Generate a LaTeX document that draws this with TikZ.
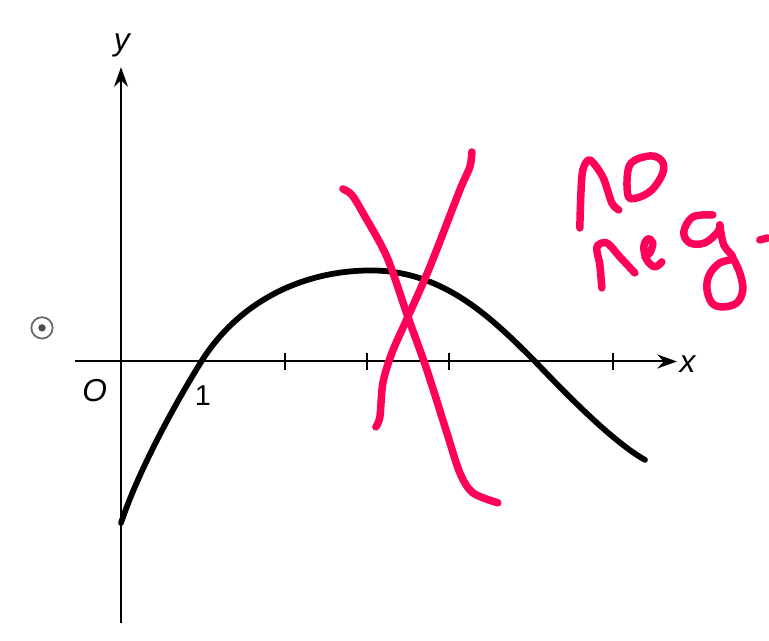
\documentclass[tikz,border=0pt]{standalone}
\usepackage{fontspec}
\setmainfont{Liberation Sans}
\usepackage{xcolor}
\definecolor{inkred}{RGB}{255,0,90}
\usepackage{tikz}
\usetikzlibrary{arrows.meta,positioning,calc}
\tikzset{
  axisline/.style={line width=0.7pt,-{Stealth[length=2.4mm,width=1.7mm]}},
  graphline/.style={line width=2pt,line cap=round},
  inkline/.style={inkred,line width=2.6pt,line cap=round,line join=round},
  lbl/.style={inner sep=1pt,font=\fontsize{10}{12}\selectfont}
}

\begin{document}
\begin{tikzpicture}
  \useasboundingbox (-1.4756,-3.4085) rectangle (7.9024,4.4085);
  % 坐标轴
  \coordinate (xmin) at (-0.56,0);
  \coordinate (xmax) at (6.78,0);
  \coordinate (ymin) at (0,-3.19);
  \coordinate (ymax) at (0,3.59);
  \draw[axisline] (xmin) -- (xmax);
  \draw[axisline] (ymin) -- (ymax);
  \foreach \t in {2,3,4,6}
    \draw[line width=0.7pt] (\t,-0.1) -- (\t,0.1);
  \node[lbl,font=\fontsize{11}{12}\selectfont\itshape] (xlab) at (6.91,-0.03) {x};
  \node[lbl,font=\fontsize{11}{12}\selectfont\itshape] (ylab) at (0.01,3.85) {y};
  \node[lbl,font=\fontsize{11}{12}\selectfont\itshape] (olab) at (-0.32,-0.35) {O};
  \node[lbl] (onelab) at (1.0,-0.42) {1};
  % 小圆点
  \draw[line width=0.6pt,gray!80!black] (-0.963,0.41) circle (0.13);
  \fill[gray!60!black] (-0.963,0.41) circle (0.045);
  % 曲线
  \coordinate (cstart) at (0,-1.97);
  \coordinate (zeroA) at (0.98,0);
  \coordinate (peak) at (3.05,1.11);
  \coordinate (zeroB) at (5.05,0);
  \coordinate (cend) at (6.39,-1.2);
  \draw[graphline] (cstart) .. controls (0.22,-1.31) and (0.68,-0.48) .. (zeroA)
    .. controls (1.43,0.72) and (2.2,1.11) .. (peak)
    .. controls (3.95,1.11) and (4.55,0.5) .. (zeroB)
    .. controls (5.45,-0.42) and (6.0,-0.98) .. (cend);
  % 红笔
  \begin{scope}[shift={(-1.4756,4.4085)},x=0.012195cm,y=-0.012195cm]
    % 叉
    \draw[inkline] plot[smooth,tension=0.5] coordinates {
      (343,189) (352,195) (363,213) (387,257) (408,317) (427,370)
      (447,433) (460,473) (473,493) (498,503)};
    \draw[inkline] plot[smooth,tension=0.5] coordinates {
      (472,152) (470,167) (460,190) (430,267) (408,317) (392,353)
      (383,383) (380,417) (376,427)};
    % no
    \draw[inkline] plot[smooth,tension=0.5] coordinates {
      (580,228) (581,195) (583,170) (590,160) (603,177) (612,203) (619,210)};
    \draw[inkline] plot[smooth cycle,tension=0.6] coordinates {
      (630,165) (628,195) (637,198) (652,190) (663,173) (662,161) (650,156)};
    % neg.
    \draw[inkline] plot[smooth,tension=0.5] coordinates {
      (602,288) (600,265) (597,247) (607,243) (620,257) (635,273)};
    \draw[inkline] plot[smooth,tension=0.6] coordinates {
      (645,257) (650,253) (653,243) (648,239) (644,247) (647,260) (655,267) (662,262)};
    \draw[inkline] plot[smooth,tension=0.6] coordinates {
      (713,215) (693,217) (684,232) (690,243) (705,243) (718,232) (720,225)};
    \draw[inkline] plot[smooth,tension=0.6] coordinates {
      (720,225) (724,245) (733,258) (720,263) (710,274) (707,288) (712,303)
      (723,307) (737,303) (743,290) (740,273) (733,258)};
    \draw[inkline] (760,240) -- (768,238);
  \end{scope}
\end{tikzpicture}
\end{document}
